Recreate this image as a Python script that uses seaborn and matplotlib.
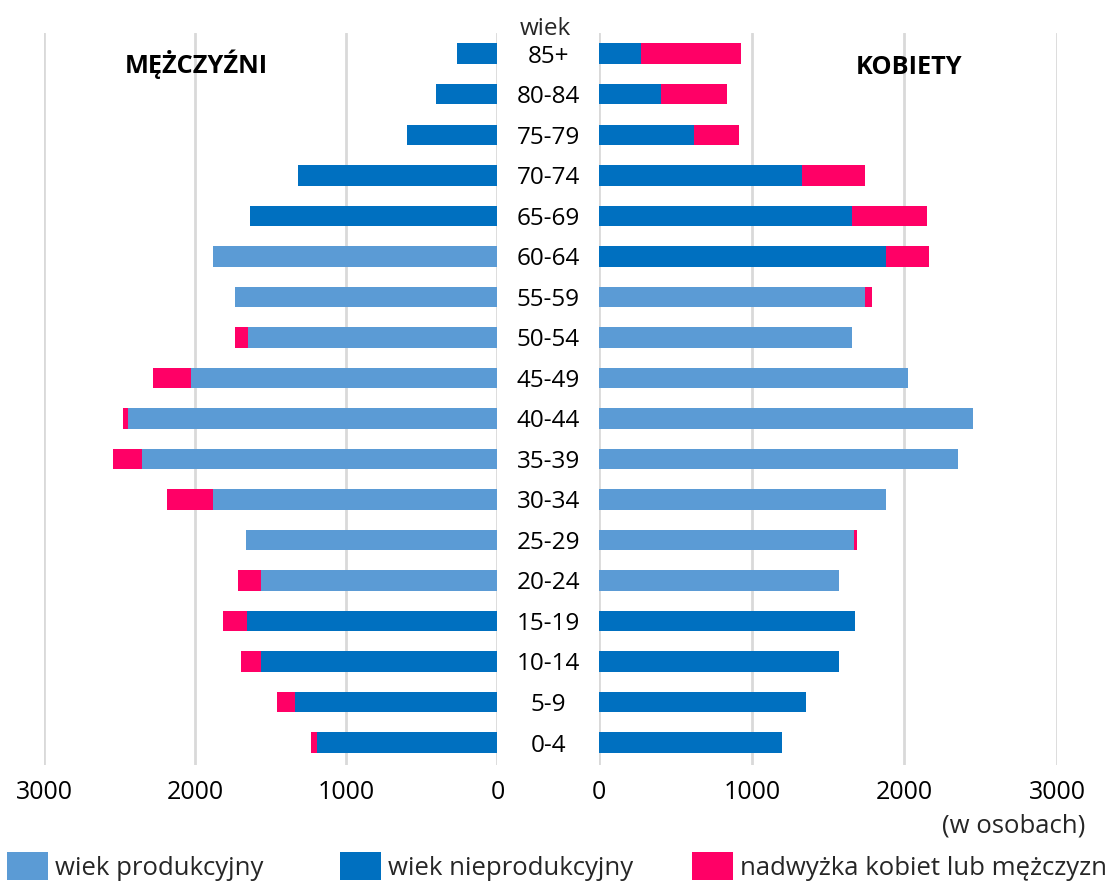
import matplotlib
matplotlib.use("Agg")
import matplotlib.pyplot as plt
import matplotlib.transforms as mtransforms
from matplotlib.patches import Patch
import seaborn as sns
import pandas as pd

# ---------------- data ----------------
ages = ['0-4', '5-9', '10-14', '15-19', '20-24', '25-29', '30-34', '35-39', '40-44',
        '45-49', '50-54', '55-59', '60-64', '65-69', '70-74', '75-79', '80-84', '85+']
men_base = [1193, 1342, 1566, 1656, 1566, 1667, 1880, 2350, 2444,
            2026, 1653, 1739, 1880, 1637, 1323, 598, 409, 267]
men_surplus = [44, 116, 134, 163, 151, 0, 305, 194, 31,
               253, 86, 0, 0, 0, 0, 0, 0, 0]
women_base = [1196, 1357, 1570, 1673, 1570, 1670, 1877, 2352, 2448,
              2024, 1657, 1741, 1877, 1657, 1327, 618, 407, 271]
women_surplus = [0, 0, 0, 0, 0, 20, 0, 0, 0,
                 0, 0, 49, 287, 491, 417, 295, 428, 660]
men_type = ['nieprod'] * 4 + ['prod'] * 9 + ['nieprod'] * 5
women_type = ['nieprod'] * 4 + ['prod'] * 8 + ['nieprod'] * 6

legend_labels = ['wiek produkcyjny', 'wiek nieprodukcyjny', 'nadwyżka kobiet lub mężczyzn']
x_ticks = [0, 1000, 2000, 3000]

# ---------------- style ----------------
C_PROD = '#5B9BD5'
C_NPROD = '#0070C0'
C_SURP = '#FF0066'
GRID = '#D9D9D9'

sns.set_style('white')
plt.rcParams['font.family'] = ['Open Sans', 'DejaVu Sans']

W, H = 1115, 884
fig = plt.figure(figsize=(W / 100, H / 100), dpi=100)

top_px, bot_px = 33.3, 765.0
axL = fig.add_axes([44 / W, 1 - bot_px / H, (497.5 - 44) / W, (bot_px - top_px) / H])
axR = fig.add_axes([599.3 / W, 1 - bot_px / H, (1057 - 599.3) / W, (bot_px - top_px) / H])

order = ages[::-1]
bar_w = 0.506
palette = {'prod': C_PROD, 'nieprod': C_NPROD}

for ax, base, surp, typ in [(axL, men_base, men_surplus, men_type),
                            (axR, women_base, women_surplus, women_type)]:
    df = pd.DataFrame({'age': ages, 'base': base,
                       'total': [b + s for b, s in zip(base, surp)], 'type': typ})
    sns.barplot(data=df, x='total', y='age', order=order, color=C_SURP, orient='h',
                width=bar_w, errorbar=None, saturation=1, linewidth=0, ax=ax)
    sns.barplot(data=df, x='base', y='age', order=order, hue='type',
                hue_order=['prod', 'nieprod'], palette=palette, dodge=False,
                orient='h', width=bar_w, errorbar=None, saturation=1, linewidth=0,
                legend=False, ax=ax)
    ax.set_ylim(17.555, -0.504)
    ax.set_xticks(x_ticks)
    ax.set_xticklabels([str(t) for t in x_ticks])
    ax.grid(axis='x', color=GRID, linewidth=2)
    ax.grid(axis='y', visible=False)
    ax.set_axisbelow(True)
    for s in ax.spines.values():
        s.set_visible(False)
    ax.set_yticks([])
    ax.set_xlabel('')
    ax.set_ylabel('')
    ax.tick_params(axis='x', length=0, pad=11, labelsize=18, labelcolor='#000000')

axL.set_xlim(3000, 0)
axR.set_xlim(0, 3000)

# age labels in the centre
tr = mtransforms.blended_transform_factory(fig.transFigure, axL.transData)
tr = tr + mtransforms.ScaledTranslation(0, -3 / 100, fig.dpi_scale_trans)
for a in order:
    axL.text(548.4 / W, order.index(a), a, transform=tr, ha='center', va='center',
             fontsize=17.5, color='#000000', clip_on=False)
fig.text(545 / W, 1 - 29 / H, 'wiek', ha='center', va='center', fontsize=17.5)

fig.text(196 / W, 1 - 64 / H, 'MĘŻCZYŹNI', ha='center', va='center',
         fontsize=18.3, fontweight='bold', color='#000000')
fig.text(909 / W, 1 - 68 / H, 'KOBIETY', ha='center', va='center',
         fontsize=18.3, fontweight='bold', color='#000000')
fig.text(1085 / W, 1 - 826 / H, '(w osobach)', ha='right', va='center', fontsize=18.5)

# legend
legend_x = [7, 340, 692]
for lx, lab, col in zip(legend_x, legend_labels, [C_PROD, C_NPROD, C_SURP]):
    fig.legend(handles=[Patch(facecolor=col, edgecolor='none', label=lab)],
               loc='center left', bbox_to_anchor=(lx / W, 1 - 866.5 / H),
               frameon=False, fontsize=18.5, handlelength=1.6, handleheight=1.3,
               handletextpad=0.25, borderpad=0, borderaxespad=0)

fig.savefig('out.png', dpi=100)
